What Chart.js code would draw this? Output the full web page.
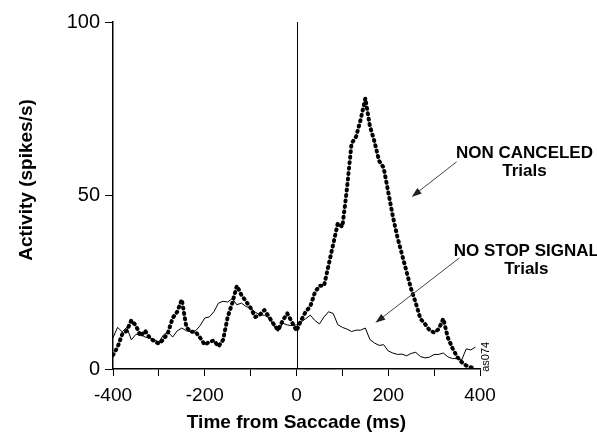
<!DOCTYPE html>
<html>
<head>
<meta charset="utf-8">
<script src="https://cdn.jsdelivr.net/npm/chart.js@4.4.1/dist/chart.umd.min.js"></script>
<style>
    body { margin: 0; background: #fff; }
    #activityChart { display: block; }
</style>
</head>
<body>
<canvas id="activityChart" width="597" height="434"></canvas>
<script>
// time bins (ms from saccade)
const timeMs = [
    -400, -390, -380, -370, -360, -350, -340, -330, -320, -310,
    -300, -290, -280, -270, -260, -250, -240, -230, -220, -210,
    -200, -190, -180, -170, -160, -150, -140, -130, -120, -110,
    -100, -90, -80, -70, -60, -50, -40, -30, -20, -10,
    0, 10, 20, 30, 40, 50, 60, 70, 80, 90,
    100, 110, 120, 130, 140, 150, 160, 170, 180, 190,
    200, 210, 220, 230, 240, 250, 260, 270, 280, 290,
    300, 310, 320, 330, 340, 350, 360, 370, 380, 390
];

// NON CANCELED trials (dotted)
const nonCanceled = [
    4, 6.3, 10, 11, 14, 12.5, 9.5, 11, 9, 8,
    7.3, 8.5, 10.5, 14.7, 16.5, 20, 12, 10.7, 10.7, 9,
    7, 7.8, 8.2, 6.5, 8.4, 15, 19, 24, 21.3, 19.5,
    17.6, 15, 15.6, 17, 15, 13, 11.2, 14, 16, 13.5,
    11, 14, 16.5, 18, 22, 24, 24, 30, 36, 42,
    41, 52, 65, 67, 72, 78, 70, 65.5, 60, 58,
    51, 44, 38, 33, 28, 23, 19, 14.5, 13, 11.2,
    10.5, 11.5, 14.5, 9, 6, 3.5, 2, 1, 0.5, 0.3
];

// NO STOP SIGNAL trials (solid)
const noStopSignal = [
    9, 12, 10.7, 12, 8.4, 10, 10, 9.2, 9, 8.4,
    7.8, 9.8, 10.7, 9.2, 11, 11.8, 11, 10.7, 11, 12.5,
    14.7, 15, 16.5, 19, 19.5, 19.3, 20.3, 18.5, 19, 18,
    17.5, 16.4, 15.6, 15.5, 14.7, 12.5, 10.8, 13.2, 12.7, 12.5,
    12.7, 13.5, 14.5, 15.5, 14, 13, 15, 16.5, 16, 12.8,
    12, 11.5, 10.8, 11.2, 11.2, 11.8, 8.5, 7.5, 6.8, 7,
    5.2, 4.6, 4.2, 4.3, 3.8, 4.5, 4.8, 3.6, 3.2, 3.4,
    4.2, 4.2, 4.6, 3.5, 3, 3, 2.6, 5.8, 5.5, 6.3
];

const xLabelTicks = [-400, -200, 0, 200, 400];
const yTicks = [0, 50, 100];

const fontFamily = "'Liberation Sans', Arial, sans-serif";

// labels + arrows, placed in data units so they follow the scales
const notes = [
    { text: 'NON CANCELED', t: 497, v: 62.2 },
    { text: 'Trials', t: 497, v: 57.0 },
    { text: 'NO STOP SIGNAL', t: 501, v: 34.0 },
    { text: 'Trials', t: 501, v: 28.6 }
];
const arrows = [
    { from: [349, 59.7], to: [251, 49.6] },
    { from: [355, 32.0], to: [172, 13.3] }
];

const toPoints = vals => vals.map((v, i) => ({ x: timeMs[i], y: v }));

const extras = {
    id: 'extras',
    afterDatasetsDraw(chart) {
        const { ctx, chartArea, scales } = chart;
        const xs = scales.x, ys = scales.y;
        ctx.save();

        // saccade line at t = 0
        const x0 = Math.round(xs.getPixelForValue(0)) + 0.5;
        ctx.strokeStyle = '#000';
        ctx.lineWidth = 1;
        ctx.beginPath();
        ctx.moveTo(x0, chartArea.top);
        ctx.lineTo(x0, chartArea.bottom);
        ctx.stroke();

        // y axis title
        ctx.save();
        ctx.translate(27, 180);
        ctx.rotate(-Math.PI / 2);
        ctx.font = 'bold 19px ' + fontFamily;
        ctx.fillStyle = '#000';
        ctx.textAlign = 'center';
        ctx.textBaseline = 'middle';
        ctx.fillText('Activity (spikes/s)', 0, 0);
        ctx.restore();

        // text notes
        ctx.font = 'bold 17px ' + fontFamily;
        ctx.fillStyle = '#000';
        ctx.textAlign = 'center';
        ctx.textBaseline = 'middle';
        notes.forEach(n => {
            ctx.fillText(n.text, xs.getPixelForValue(n.t), ys.getPixelForValue(n.v));
        });

        // arrows
        ctx.strokeStyle = '#444';
        ctx.fillStyle = '#222';
        arrows.forEach(a => {
            const x1 = xs.getPixelForValue(a.from[0]), y1 = ys.getPixelForValue(a.from[1]);
            const x2 = xs.getPixelForValue(a.to[0]), y2 = ys.getPixelForValue(a.to[1]);
            const ang = Math.atan2(y2 - y1, x2 - x1);
            ctx.lineWidth = 1;
            ctx.beginPath();
            ctx.moveTo(x1, y1);
            ctx.lineTo(x2 - 6 * Math.cos(ang), y2 - 6 * Math.sin(ang));
            ctx.stroke();
            ctx.beginPath();
            ctx.moveTo(x2, y2);
            ctx.lineTo(x2 - 10 * Math.cos(ang) + 3.5 * Math.sin(ang), y2 - 10 * Math.sin(ang) - 3.5 * Math.cos(ang));
            ctx.lineTo(x2 - 10 * Math.cos(ang) - 3.5 * Math.sin(ang), y2 - 10 * Math.sin(ang) + 3.5 * Math.cos(ang));
            ctx.closePath();
            ctx.fill();
        });

        // file tag
        ctx.save();
        ctx.translate(xs.getPixelForValue(414), ys.getPixelForValue(3.5));
        ctx.rotate(-Math.PI / 2);
        ctx.font = '11px ' + fontFamily;
        ctx.fillStyle = '#000';
        ctx.fillText('as074', 0, 0);
        ctx.restore();

        ctx.restore();
    }
};

const ctx = document.getElementById('activityChart').getContext('2d');

new Chart(ctx, {
    type: 'line',
    data: {
        datasets: [
            {
                label: 'NON CANCELED Trials',
                data: toPoints(nonCanceled),
                borderColor: '#000',
                borderWidth: 4,
                borderDash: [1, 4.5],
                borderCapStyle: 'round',
                borderJoinStyle: 'round',
                pointRadius: 0,
                tension: 0
            },
            {
                label: 'NO STOP SIGNAL Trials',
                data: toPoints(noStopSignal),
                borderColor: '#000',
                borderWidth: 1,
                borderJoinStyle: 'round',
                pointRadius: 0,
                tension: 0
            }
        ]
    },
    options: {
        responsive: false,
        animation: false,
        layout: { padding: { top: 22, right: 117, left: 0, bottom: 0 } },
        plugins: {
            legend: { display: false },
            tooltip: { enabled: false }
        },
        scales: {
            x: {
                type: 'linear',
                min: -400,
                max: 400,
                afterFit: s => { s.height = 65; },
                border: { display: true, color: '#000', width: 1.5 },
                grid: { drawOnChartArea: false, drawTicks: true, tickLength: 7, color: '#000', lineWidth: 1 },
                ticks: {
                    stepSize: 100,
                    autoSkip: false,
                    maxRotation: 0,
                    padding: 8,
                    color: '#000',
                    font: { size: 19, family: fontFamily },
                    callback: v => xLabelTicks.includes(v) ? String(v) : ''
                },
                title: {
                    display: true,
                    text: 'Time from Saccade (ms)',
                    color: '#000',
                    padding: { top: 4, bottom: 0 },
                    font: { size: 19, weight: 'bold', family: fontFamily }
                }
            },
            y: {
                min: 0,
                max: 100,
                afterFit: s => { s.width = 113; },
                afterBuildTicks: s => { s.ticks = yTicks.map(v => ({ value: v })); },
                border: { display: true, color: '#000', width: 1.5 },
                grid: { drawOnChartArea: false, drawTicks: true, tickLength: 8, color: '#000', lineWidth: 1 },
                ticks: {
                    padding: 5,
                    color: '#000',
                    font: { size: 20, family: fontFamily }
                }
            }
        }
    },
    plugins: [extras]
});
</script>
</body>
</html>
